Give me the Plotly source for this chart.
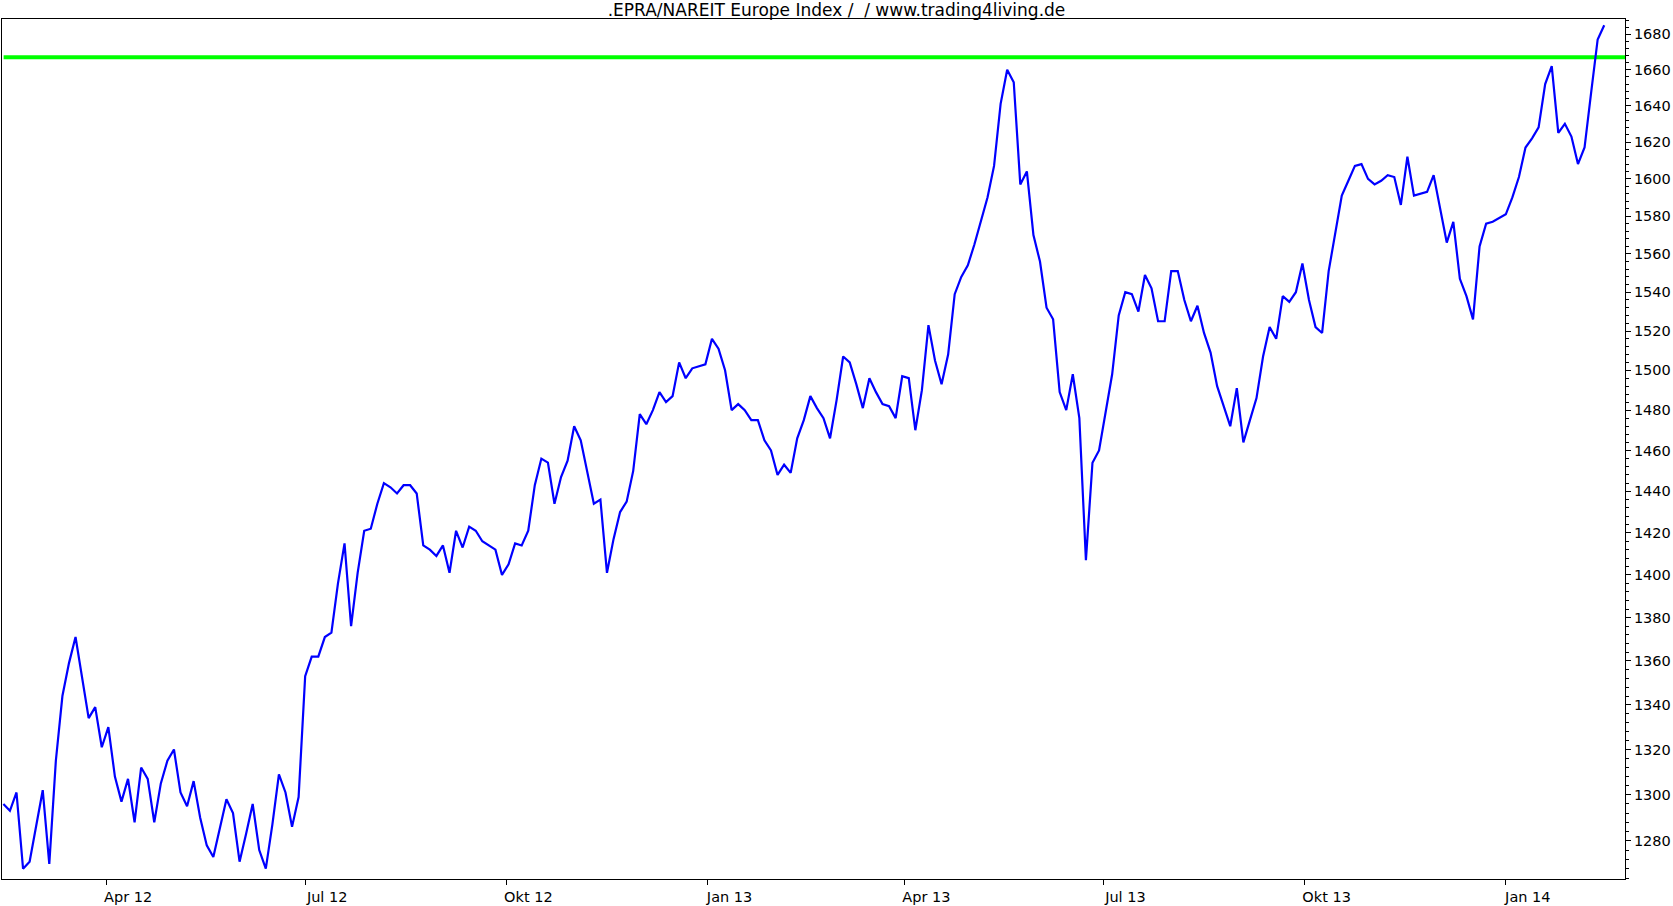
import numpy as np
import pandas as pd
import plotly.graph_objects as go

# ---- data ----
start_date = "2012-02-14"
step_days = 3
index_values = [
    1296, 1293, 1301, 1268, 1271, 1286, 1302, 1270, 1315, 1344,
    1359, 1371, 1353, 1334, 1339, 1321, 1330, 1308, 1297, 1307,
    1288, 1312, 1307, 1288, 1305, 1315, 1320, 1301, 1295, 1306,
    1290, 1278, 1273, 1285, 1298, 1292, 1271, 1283, 1296, 1276,
    1268, 1287, 1309, 1301, 1286, 1299, 1353, 1362, 1362, 1371,
    1373, 1396, 1415, 1376, 1401, 1421, 1422, 1434, 1444, 1442,
    1439, 1443, 1443, 1439, 1414, 1412, 1409, 1414, 1401, 1421,
    1413, 1423, 1421, 1416, 1414, 1412, 1400, 1405, 1415, 1414,
    1421, 1443, 1456, 1454, 1434, 1447, 1455, 1472, 1465, 1450,
    1434, 1436, 1401, 1417, 1430, 1435, 1450, 1478, 1473, 1480,
    1489, 1484, 1487, 1504, 1496, 1501, 1502, 1503, 1516, 1511,
    1500, 1480, 1483, 1480, 1475, 1475, 1465, 1460, 1448, 1453,
    1449, 1466, 1475, 1487, 1481, 1476, 1466, 1485, 1507, 1504,
    1493, 1481, 1496, 1489, 1483, 1482, 1476, 1497, 1496, 1470,
    1490, 1523, 1505, 1493, 1508, 1539, 1548, 1554, 1565, 1578,
    1590, 1607, 1641, 1660, 1653, 1597, 1604, 1570, 1556, 1532,
    1526, 1489, 1480, 1498, 1476, 1407, 1454, 1460, 1478, 1498,
    1528, 1540, 1539, 1530, 1549, 1542, 1525, 1525, 1551, 1551,
    1536, 1525, 1533, 1519, 1509, 1492, 1482, 1472, 1491, 1464,
    1475, 1486, 1507, 1522, 1516, 1538, 1535, 1540, 1555, 1536,
    1522, 1519, 1551, 1572, 1591, 1599, 1607, 1608, 1600, 1597,
    1599, 1602, 1601, 1586, 1612, 1591, 1592, 1593, 1602, 1583,
    1566, 1577, 1547, 1538, 1526, 1564, 1576, 1577, 1579, 1581,
    1590, 1601, 1617, 1622, 1628, 1652, 1662, 1625, 1630, 1623,
    1608, 1617, 1647, 1677, 1685,
]
resistance_level = 1667

tick_dates = ["2012-04-01", "2012-07-01", "2012-10-01", "2013-01-01",
              "2013-04-01", "2013-07-01", "2013-10-01", "2014-01-01"]
tick_labels = ["Apr 12", "Jul 12", "Okt 12", "Jan 13",
               "Apr 13", "Jul 13", "Okt 13", "Jan 14"]
y_tick_values = list(range(1280, 1681, 20))
y_minor_values = [v for v in range(1264, 1689, 4) if v % 20 != 0]

title_text = ".EPRA/NAREIT Europe Index /  / www.trading4living.de"

x_range = ["2012-02-13 09:00", "2014-02-24 12:00"]
y_bounds = [1263.6, 1688.6]

dates = pd.date_range(start_date, periods=len(index_values), freq=f"{step_days}D")

fig = go.Figure()
fig.add_trace(go.Scatter(
    x=dates, y=index_values, mode="lines",
    line=dict(color="#0000FF", width=2.2),
    hoverinfo="skip", showlegend=False,
))

fig.add_shape(type="line", xref="paper", x0=0.001, x1=1,
              yref="y", y0=resistance_level, y1=resistance_level,
              line=dict(color="#00FF00", width=4), layer="below")

FONT = "DejaVu Sans"
fig.update_layout(
    width=1673, height=906,
    margin=dict(l=1, r=48, t=19, b=23, pad=0),
    paper_bgcolor="white", plot_bgcolor="white",
    font=dict(family=FONT, size=14.5, color="black"),
    title=dict(text=title_text, x=0.5, xref="container", xanchor="center",
               y=1 - 9.6 / 906, yref="container", yanchor="middle",
               font=dict(family=FONT, size=17, color="black")),
    showlegend=False,
)
fig.update_xaxes(
    type="date", range=x_range,
    tickmode="array", tickvals=tick_dates, ticktext=tick_labels,
    ticks="outside", ticklen=5, tickcolor="black", tickwidth=1,
    ticklabelshift=22,
    showgrid=False, zeroline=False,
    showline=True, linecolor="black", linewidth=1, mirror=True,
)
fig.update_yaxes(
    type="log", range=[np.log10(y_bounds[0]), np.log10(y_bounds[1])],
    side="right",
    tickmode="array", tickvals=y_tick_values,
    ticktext=[str(v) for v in y_tick_values],
    ticks="outside", ticklen=5, tickcolor="black", tickwidth=1,
    minor=dict(tickmode="array", tickvals=y_minor_values, ticks="outside",
               ticklen=3, tickcolor="black", showgrid=False),
    showgrid=False, zeroline=False,
    showline=True, linecolor="black", linewidth=1, mirror=True,
)

fig.write_html("out.html", config={"displayModeBar": False},
               post_script="document.body.style.margin='0';")
